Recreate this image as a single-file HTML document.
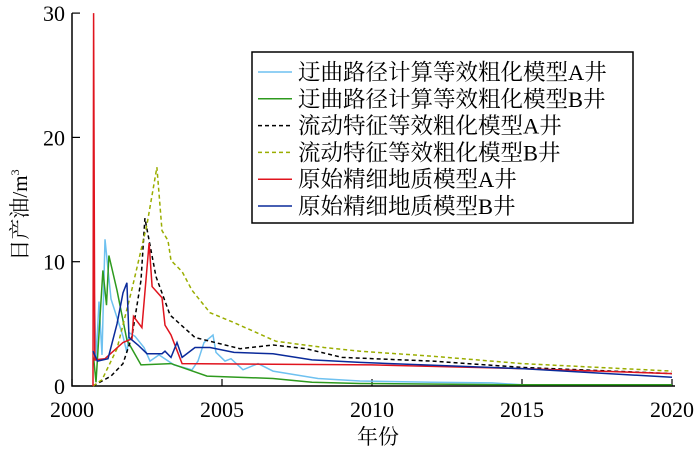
<!DOCTYPE html>
<html><head><meta charset="utf-8"><style>
body{margin:0;background:#fff}
svg text{font-family:"Liberation Serif","Noto Serif CJK SC",serif;fill:#000}
</style></head><body>
<svg id="chart" width="700" height="448" xmlns="http://www.w3.org/2000/svg"></svg>
<script>
const xTicks=[2000,2005,2010,2015,2020];
const yTicks=[0,10,20,30];
const seriesNames=["迂曲路径计算等效粗化模型A井","迂曲路径计算等效粗化模型B井","流动特征等效粗化模型A井","流动特征等效粗化模型B井","原始精细地质模型A井","原始精细地质模型B井"];
const pathAx=[2000.72,2000.8,2000.9,2001.0,2001.1,2001.3,2001.5,2001.7,2001.83,2001.9,2002.1,2002.4,2002.6,2002.9,2003.4,2004.0,2004.2,2004.4,2004.7,2004.8,2005.1,2005.3,2005.7,2006.2,2006.7,2008.2,2009.6,2012,2014,2015];
const pathAy=[9.5,2,6.8,2.5,11.8,7,5.5,4,2.7,4.3,4.0,3.1,2.0,2.5,1.7,1.3,2.0,3.5,4.1,2.7,2.0,2.2,1.3,1.8,1.2,0.6,0.4,0.3,0.25,0.1];
const pathBx=[2000.72,2000.8,2001.03,2001.15,2001.23,2001.5,2001.83,2002.3,2003.3,2004.5,2006.7,2008,2009.6,2015,2020];
const pathBy=[2.3,0.3,9.3,6.5,10.5,7.7,3.7,1.7,1.8,0.8,0.6,0.3,0.2,0.1,0.1];
const flowAx=[2000.7,2001.3,2001.7,2002.0,2002.3,2002.43,2002.8,2003.27,2004.1,2005.6,2006.7,2007.8,2009.0,2012,2015,2020];
const flowAy=[0,0.8,1.8,4,8.5,13.5,8.8,5.7,3.9,3.0,3.3,3.0,2.3,2.0,1.5,1.0];
const flowBx=[2000.7,2001.0,2001.5,2002.0,2002.5,2002.83,2003.0,2003.2,2003.3,2003.67,2004.0,2004.6,2005.4,2006.8,2008.4,2009.6,2012,2015,2020];
const flowBy=[0,0.5,3,7.8,13,17.6,12.5,11.7,10.1,9.2,7.7,5.9,5.1,3.6,3.1,2.8,2.4,1.8,1.2];
const origAx=[2000.7,2000.72,2000.76,2001.1,2001.7,2002.0,2002.05,2002.33,2002.57,2002.67,2003.0,2003.1,2003.3,2003.67,2010,2015,2020];
const origAy=[0,30,2.1,2.2,3.5,3.8,5.6,4.7,11.5,8.0,7.1,4.9,4.1,1.8,1.7,1.4,1.0];
const origBx=[2000.7,2000.85,2001.2,2001.5,2001.7,2001.83,2001.9,2002.2,2002.5,2003.0,2003.1,2003.3,2003.5,2003.67,2004.1,2004.6,2005.4,2006.7,2008,2009.6,2015,2020];
const origBy=[2.8,2.0,2.2,5,7.5,8.3,3.9,3.3,2.6,2.6,2.8,2.3,3.5,2.3,3.1,3.1,2.7,2.6,2.1,1.9,1.4,0.7];
const NS="http://www.w3.org/2000/svg";
const svg=document.getElementById('chart');
const X=v=>72+(v-2000)*30;
const Y=v=>386-v*12.43;
function el(t,a,p){const e=document.createElementNS(NS,t);for(const k in a)e.setAttribute(k,a[k]);(p||svg).appendChild(e);return e;}
const ax=el('g',{});


el('path',{d:`M72,${Y(30)} V386 H${X(2020)+3}`,stroke:'#000','stroke-width':1.5,fill:'none'},ax);
yTicks.forEach(t=>{
  el('line',{x1:72,x2:80,y1:Y(t),y2:Y(t),stroke:'#000','stroke-width':1.2},ax);
  const tx=el('text',{x:65,y:Y(t)+8,'text-anchor':'end','font-size':22},ax);tx.textContent=t;
  
  
});
xTicks.forEach(t=>{
  el('line',{x1:X(t),x2:X(t),y1:386,y2:379,stroke:'#000','stroke-width':1.2},ax);
  const tx=el('text',{x:X(t),y:417,'text-anchor':'middle','font-size':22},ax);tx.textContent=t;
  
  
});
const xl=el('text',{x:378,y:444,'text-anchor':'middle','font-size':21});xl.textContent='年份';


const yl=el('text',{x:0,y:0,'text-anchor':'middle','font-size':21,transform:'translate(27,215) rotate(-90)'});yl.innerHTML='日产油/m<tspan dy="-8" font-size="12">3</tspan>';


const styles=[{c:'#6ec1f0',d:''},{c:'#2e9a1e',d:''},{c:'#000',d:'4,3'},{c:'#9aad00',d:'4,3'},{c:'#e0141e',d:''},{c:'#0a2a9a',d:''}];
const data=[[pathAx,pathAy],[pathBx,pathBy],[flowAx,flowAy],[flowBx,flowBy],[origAx,origAy],[origBx,origBy]];
const keys=['path-a','path-b','flow-a','flow-b','orig-a','orig-b'];
data.forEach((s,i)=>{
  const pts=s[0].map((x,j)=>X(x).toFixed(1)+','+Y(s[1][j]).toFixed(1)).join(' ');
  const p=el('polyline',{points:pts,fill:'none',stroke:styles[i].c,'stroke-width':1.5,'stroke-dasharray':styles[i].d});
  
  
});
const lg=el('g',{});


el('rect',{x:252,y:52,width:381,height:171,fill:'#fff',stroke:'#000','stroke-width':1.5},lg);
seriesNames.forEach((n,i)=>{
  const yy=72+i*26.8;
  el('line',{x1:258,x2:292,y1:yy,y2:yy,stroke:styles[i].c,'stroke-width':1.5,'stroke-dasharray':styles[i].d},lg);
  const t=el('text',{x:298,y:yy+8,'font-size':22.5},lg);t.textContent=n;
  
  
});
</script>
</body></html>
